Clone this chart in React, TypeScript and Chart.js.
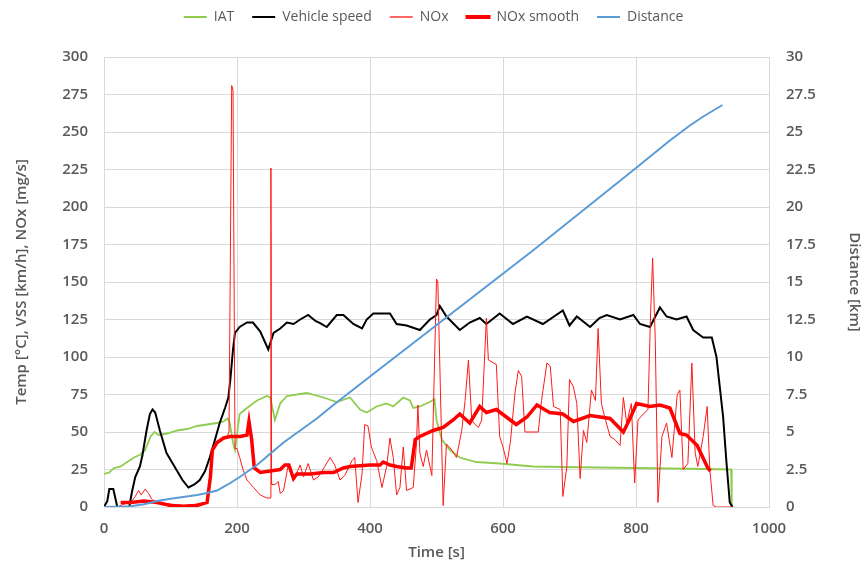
import { useEffect, useRef } from 'react';
import { Chart, registerables } from 'chart.js';

Chart.register(...registerables);

// ---- Data ----
const IAT_T = [0, 8, 15, 25, 35, 45, 55, 62, 70, 76, 82, 95, 110, 125, 140, 155, 170, 180, 186, 189, 194, 197, 204, 215, 230, 245, 250, 257, 265, 275, 290, 305, 330, 350, 370, 385, 395, 410, 425, 435, 450, 460, 465, 475, 490, 497, 500, 508, 520, 535, 560, 595, 645, 716, 800, 880, 943, 944];
const IAT_V = [22, 23, 26, 27, 30, 33, 35, 38, 47, 50, 48, 49, 51, 52, 54, 55, 56, 57, 59, 56, 43, 38, 62, 66, 71, 74, 73, 58, 69, 74, 75, 76, 73, 70, 73, 65, 63, 67, 69, 67, 73, 71, 66, 67, 70, 72, 58, 45, 38, 33, 30, 29, 27, 26.5, 26, 25.5, 25, 0];

const VSS_T = [0, 5, 8, 14, 19, 20, 38, 42, 47, 54, 58, 64, 69, 73, 77, 84, 94, 102, 110, 118, 127, 136, 144, 152, 159, 167, 174, 182, 187, 190, 194, 197, 204, 215, 224, 235, 242, 247, 255, 265, 275, 285, 295, 307, 318, 325, 335, 350, 360, 375, 388, 395, 405, 430, 440, 455, 475, 490, 500, 505, 515, 535, 550, 565, 575, 595, 615, 636, 660, 690, 700, 711, 731, 745, 756, 776, 796, 806, 821, 836, 846, 861, 876, 886, 901, 914, 921, 926, 931, 936, 941, 945];
const VSS_V = [0, 4, 12, 12, 2, 0, 0, 10, 20, 27, 35, 51, 62, 65, 63, 51, 36, 30, 24, 18, 13, 15, 18, 24, 33, 45, 56, 66, 73, 85, 105, 116, 120, 123, 123, 117, 110, 105, 116, 119, 123, 122, 125, 128, 124, 122.6, 120, 128, 128, 122, 119, 125, 129, 129, 122, 121, 118, 125, 128, 134, 127, 118, 123, 126, 122, 129, 122, 127, 122, 131, 121, 127, 120, 126, 128, 125, 128, 122, 120, 133, 127, 125, 127, 118, 113, 113, 100, 80, 60, 30, 3, 0];

const NOX_T = [0, 20, 30, 40, 47, 52, 56, 62, 67, 72, 80, 100, 120, 140, 155, 160, 164, 170, 178, 185, 188, 192, 194, 197, 200, 204, 209, 215, 225, 235, 245, 250, 251, 252, 257, 262, 265, 270, 277, 285, 295, 300, 307, 315, 322, 332, 340, 347, 355, 362, 373, 377, 382, 388, 392, 397, 402, 410, 418, 425, 430, 435, 440, 445, 450, 455, 465, 470, 472, 475, 480, 485, 493, 500, 502, 510, 515, 523, 530, 538, 543, 548, 553, 558, 563, 568, 575, 578, 590, 595, 600, 606, 611, 618, 623, 628, 633, 653, 658, 666, 671, 676, 686, 690, 696, 700, 706, 711, 716, 721, 726, 733, 739, 743, 748, 753, 761, 768, 776, 781, 786, 793, 798, 803, 811, 818, 822, 825, 829, 833, 839, 846, 854, 862, 866, 871, 878, 884, 889, 893, 901, 907, 911, 916, 921, 945];
const NOX_V = [0, 0, 2, 3, 7, 11, 8, 12, 9, 5, 3, 2, 1, 2, 3, 25, 38, 42, 45, 47, 50, 281, 278, 39, 39, 33, 25, 18, 13, 8, 6, 6, 226, 15, 15, 17, 9, 11, 28, 18, 28, 20, 29, 18, 20, 27, 33, 28, 18, 21, 31, 33, 3, 22, 55, 54, 40, 31, 13, 27, 46, 33, 8, 13, 40, 11, 13, 43, 68, 36, 27, 38, 21, 152, 150, 1, 42, 38, 33, 51, 71, 98, 58, 55, 53, 58, 126, 98, 95, 47, 40, 29, 43, 76, 91, 87, 50, 50, 71, 96, 94, 67, 65, 7, 27, 85, 80, 69, 19, 51, 43, 78, 71, 119, 69, 60, 47, 45, 41, 73, 56, 69, 16, 58, 62, 65, 130, 166, 111, 3, 47, 56, 33, 75, 78, 25, 29, 96, 36, 27, 47, 67, 25, 1, 0, 0];

const NOXS_T = [25, 40, 60, 80, 100, 120, 140, 155, 160, 163, 170, 180, 190, 205, 215, 218, 222, 226, 235, 250, 265, 272, 278, 285, 290, 310, 330, 345, 360, 370, 400, 415, 420, 430, 440, 455, 462, 468, 475, 495, 510, 525, 535, 550, 565, 575, 590, 605, 620, 636, 651, 670, 690, 706, 731, 761, 781, 791, 801, 821, 836, 851, 866, 876, 892, 908, 912];
const NOXS_V = [3, 3, 4, 3, 1, 0.5, 1, 3, 20, 38, 43, 46, 47, 47, 48, 57, 45, 26, 23, 24, 25, 28, 28, 19, 22, 22, 23, 23, 26, 27, 28, 28, 30, 28, 27, 26, 26, 45, 47, 51, 53, 58, 62, 56, 67, 63, 65, 60, 55, 60, 68, 63, 62, 57, 61, 59, 50, 59, 69, 67, 68, 66, 49, 48, 41, 26, 24];

const DIST_T = [0, 20, 40, 60, 70, 80, 100, 119, 140, 155, 170, 179, 190, 204, 217, 230, 242, 254, 270, 295, 320, 345, 400, 505, 645, 800, 850, 880, 900, 915, 930];
const DIST_V = [0, 0.02, 0.05, 0.18, 0.28, 0.4, 0.55, 0.67, 0.8, 0.93, 1.1, 1.33, 1.6, 2.0, 2.4, 2.8, 3.25, 3.7, 4.3, 5.1, 5.9, 6.8, 8.7, 12.3, 17.1, 22.6, 24.4, 25.4, 26.0, 26.4, 26.8];

const pts = (t: number[], v: number[]) => t.map((x, i) => ({ x, y: v[i] }));

const GREY = '#595959';
const GRID = '#d9d9d9';
const FAMILY = "'Open Sans', 'Noto Sans', sans-serif";
const TICK_FONT = { family: FAMILY, size: 15, weight: '600' };
const TITLE_FONT = { family: FAMILY, size: 15, weight: '600' };

const legendHeightPlugin = {
  id: 'legendHeight',
  beforeLayout(chart: any) {
    const lg: any = chart.legend;
    if (lg && !lg._patchedFit) {
      const orig = lg.fit.bind(lg);
      lg.fit = function () {
        orig();
        this.height = 65;
      };
      lg._patchedFit = true;
    }
  },
};

export default function App() {
  const ref = useRef<HTMLCanvasElement | null>(null);

  useEffect(() => {
    document.body.style.margin = '0';
    if (!ref.current) return;
    const chart = new Chart(ref.current, {
      type: 'line',
      data: {
        datasets: [
          { label: 'IAT', data: pts(IAT_T, IAT_V), borderColor: '#8fcc4f', backgroundColor: '#8fcc4f', borderWidth: 1.8, yAxisID: 'y', order: 5 },
          { label: 'Vehicle speed', data: pts(VSS_T, VSS_V), borderColor: '#000000', backgroundColor: '#000000', borderWidth: 2, yAxisID: 'y', order: 4 },
          { label: 'NOx', data: pts(NOX_T, NOX_V), borderColor: '#ff1a1a', backgroundColor: '#ff1a1a', borderWidth: 1, yAxisID: 'y', order: 3 },
          { label: 'NOx smooth', data: pts(NOXS_T, NOXS_V), borderColor: '#ff0000', backgroundColor: '#ff0000', borderWidth: 3.5, yAxisID: 'y', order: 2 },
          { label: 'Distance', data: pts(DIST_T, DIST_V), borderColor: '#5b9bd5', backgroundColor: '#5b9bd5', borderWidth: 2, yAxisID: 'y2', order: 1 },
        ] as any,
      },
      options: {
        responsive: false,
        animation: false,
        devicePixelRatio: 1,
        layout: { padding: { top: -8, left: 0, right: 0, bottom: 0 } },
        elements: { point: { radius: 0 }, line: { tension: 0, fill: false } },
        plugins: {
          tooltip: { enabled: false },
          legend: {
            position: 'top',
            labels: {
              boxWidth: 23,
              boxHeight: 2,
              padding: 18,
              color: GREY,
              font: { family: FAMILY, size: 14 },
              generateLabels: (c: any) =>
                c.data.datasets.map((ds: any, i: number) => ({
                  text: ds.label,
                  fillStyle: i === 2 ? '#ff6666' : ds.borderColor,
                  strokeStyle: ds.borderColor,
                  lineWidth: i === 3 ? 2 : 0,
                  hidden: false,
                  datasetIndex: i,
                  fontColor: GREY,
                })),
            },
          },
        },
        scales: {
          x: {
            type: 'linear',
            min: 0,
            max: 1000,
            ticks: { stepSize: 200, color: GREY, padding: 13, font: TICK_FONT, callback: (v: any) => String(v) },
            grid: { color: GRID, drawTicks: false },
            border: { color: GRID },
            title: { display: true, text: 'Time [s]', color: GREY, font: TITLE_FONT, padding: { top: 0, bottom: 5 } },
            afterFit: (s: any) => { s.height = 60; },
          },
          y: {
            type: 'linear',
            position: 'left',
            min: 0,
            max: 300,
            ticks: { stepSize: 25, color: GREY, padding: 16, font: TICK_FONT },
            grid: { color: GRID, drawTicks: false },
            border: { color: GRID },
            title: { display: true, text: 'Temp [°C], VSS [km/h], NOx [mg/s]', color: GREY, font: TITLE_FONT, padding: { top: 13, bottom: 0 } },
            afterFit: (s: any) => { s.width = 104; },
          },
          y2: {
            type: 'linear',
            position: 'right',
            min: 0,
            max: 30,
            ticks: { stepSize: 2.5, color: GREY, padding: 17, font: TICK_FONT, callback: (v: any) => String(v) },
            grid: { drawOnChartArea: false, drawTicks: false },
            border: { color: GRID },
            title: { display: true, text: 'Distance [km]', color: GREY, font: TITLE_FONT, padding: { top: 4, bottom: 0 } },
            afterFit: (s: any) => { s.width = 98; },
          },
        },
      } as any,
      plugins: [legendHeightPlugin],
    });
    return () => chart.destroy();
  }, []);

  return (
    <div style={{ width: 867, height: 567 }}>
      <canvas ref={ref} width={867} height={567} />
    </div>
  );
}
